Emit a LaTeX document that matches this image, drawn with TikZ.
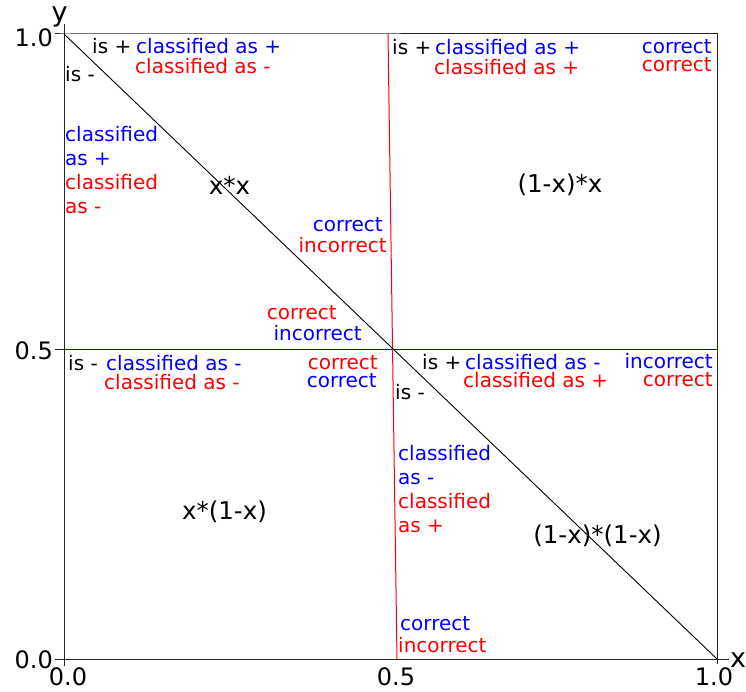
\documentclass[tikz,border=0pt]{standalone}
\usepackage{fontspec}
\setmainfont{DejaVu Sans}
\begin{document}
\begin{tikzpicture}[x=1pt,y=-1pt,
  lbl/.style={inner sep=0pt,font=\fontsize{20}{24}\selectfont},
  blu/.style={lbl,text=blue},
  rd/.style={lbl,text=red},
  big/.style={inner sep=0pt,font=\fontsize{24.5}{28}\selectfont},
  axl/.style={inner sep=0pt,font=\fontsize{24}{28}\selectfont},
  ln/.style={line width=1pt}]
\useasboundingbox (0,0) rectangle (746,692);
% coordinates
\coordinate (O) at (64,659);
\coordinate (TL) at (64,34);
\coordinate (TR) at (717,34);
\coordinate (BR) at (717,659);
\coordinate (ML) at (64,349);
\coordinate (MR) at (717,349);
\coordinate (RT) at (388,34);
\coordinate (RB) at (397,659);
\coordinate (Ytop) at (64,24);
\coordinate (Ybot) at (64,666);
\coordinate (Xl) at (55,659);
\coordinate (Xr) at (729,659);
\coordinate (T1) at (55,34);
\coordinate (T5) at (55,349);
\coordinate (BRb) at (717,664);
% axes and frame
\draw[ln,black!85] (Ybot) -- (Ytop);
\draw[ln,black!85] (Xl) -- (Xr);
\draw[ln,black!85] (T1) -- (TL) -- (TR) -- (BR) -- (BRb);
\draw[ln,black!85] (T5) -- (ML);
\draw[ln,blue] (ML) -- (MR);
\draw[ln,red] (RT) -- (RB);
\draw[line width=0.9pt,black] (TL) -- (BR);
% axis labels
\node[inner sep=0pt,font=\fontsize{27}{28}\selectfont,anchor=base] (ylab) at (59.5,21.5) {y};
\node[inner sep=0pt,font=\fontsize{27}{28}\selectfont,anchor=base] (xlab) at (738,667) {x};
\node[axl,anchor=base east] (y10) at (53,47) {1.0};
\node[axl,anchor=base east] (y05) at (53,359) {0.5};
\node[axl,anchor=base east] (y00) at (53,668) {0.0};
\node[axl,anchor=base] (x00) at (68,685) {0.0};
\node[axl,anchor=base] (x05) at (396,685) {0.5};
\node[axl,anchor=base] (x10) at (714,685) {1.0};
% region formulas
\node[big,anchor=base] (fxx) at (229.5,195) {x*x};
\node[big,anchor=base] (f1xx) at (560,193) {(1-x)*x};
\node[big,anchor=base] (fx1x) at (224.5,519) {x*(1-x)};
\node[big,anchor=base] (f1x1x) at (597.5,543) {(1-x)*(1-x)};
% top-left region
\node[lbl,anchor=base west] (a1) at (92,54) {is +};
\node[blu,anchor=base west] (a2) at (136,54) {classified as +};
\node[rd,anchor=base west] (a3) at (135,74) {classified as -};
\node[lbl,anchor=base west] (a4) at (65,82) {is -};
\node[blu,anchor=base west] (a5) at (65,142) {classified};
\node[blu,anchor=base west] (a6) at (65,166) {as +};
\node[rd,anchor=base west] (a7) at (65,190) {classified};
\node[rd,anchor=base west] (a8) at (65,214) {as -};
% top-right region
\node[lbl,anchor=base west] (b1) at (392,55) {is +};
\node[blu,anchor=base west] (b2) at (435,55) {classified as +};
\node[rd,anchor=base west] (b3) at (434,75) {classified as +};
\node[blu,anchor=base east] (b4) at (712,54) {correct};
\node[rd,anchor=base east] (b5) at (712,72) {correct};
% center labels
\node[blu,anchor=base east] (c1) at (383,232) {correct};
\node[rd,anchor=base east] (c2) at (387,253) {incorrect};
\node[rd,anchor=base east] (c3) at (337,319) {correct};
\node[blu,anchor=base east] (c4) at (362,340) {incorrect};
\node[rd,anchor=base east] (c5) at (378,369) {correct};
\node[blu,anchor=base east] (c6) at (377,387) {correct};
% bottom-left region header
\node[lbl,anchor=base west] (d1) at (68,370) {is -};
\node[blu,anchor=base west] (d2) at (106,370) {classified as -};
\node[rd,anchor=base west] (d3) at (104,389) {classified as -};
% bottom-right region
\node[lbl,anchor=base west] (e1) at (422,369) {is +};
\node[blu,anchor=base west] (e2) at (465,369) {classified as -};
\node[rd,anchor=base west] (e3) at (463,387) {classified as +};
\node[blu,anchor=base east] (e4) at (713,368) {incorrect};
\node[rd,anchor=base east] (e5) at (713,386) {correct};
\node[lbl,anchor=base west] (e6) at (395,399) {is -};
\node[blu,anchor=base west] (e7) at (398,460) {classified};
\node[blu,anchor=base west] (e8) at (398,484) {as -};
\node[rd,anchor=base west] (e9) at (398,508) {classified};
\node[rd,anchor=base west] (e10) at (398,532) {as +};
\node[blu,anchor=base west] (e11) at (400,630) {correct};
\node[rd,anchor=base west] (e12) at (398,652) {incorrect};
\end{tikzpicture}
\end{document}
